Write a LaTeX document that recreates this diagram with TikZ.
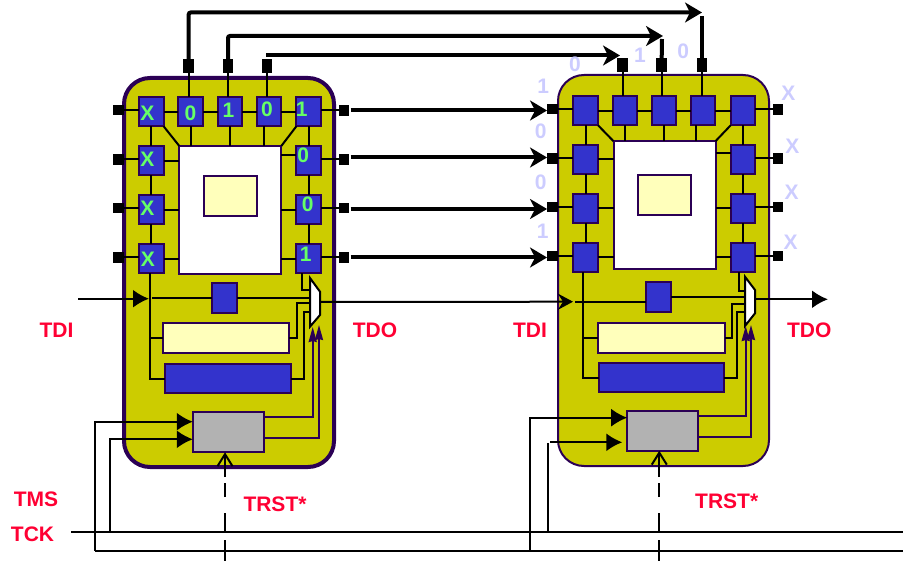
\documentclass[tikz,border=0pt]{standalone}
\usepackage{fontspec}
\setmainfont{Liberation Sans}
\usetikzlibrary{arrows.meta}
\definecolor{edge}{RGB}{43,0,85}
\definecolor{olive}{RGB}{204,204,0}
\definecolor{cellblue}{RGB}{51,51,204}
\definecolor{pale}{RGB}{255,255,187}
\definecolor{graybox}{RGB}{178,178,178}
\definecolor{redlabel}{RGB}{255,0,51}
\definecolor{greenlabel}{RGB}{102,255,102}
\definecolor{ghost}{RGB}{204,204,255}
\tikzset{
  base/.style={inner sep=0pt,outer sep=0pt,draw=edge},
  chip/.style={base,fill=olive,rounded corners=26pt},
  cellbox/.style={base,fill=cellblue,line width=2pt,minimum width=24.5pt,minimum height=29pt},
  padbox/.style={inner sep=0pt,outer sep=0pt,fill=black,minimum width=10.5pt,minimum height=10.5pt},
  toppad/.style={padbox,minimum height=14pt},
  corebox/.style={base,fill=white,line width=2pt},
  palebox/.style={base,fill=pale,line width=2pt},
  bluebox/.style={base,fill=cellblue,line width=2pt},
  graysq/.style={base,fill=graybox,line width=2pt},
  muxshape/.style={draw=black,fill=white,line width=2pt},
  wire/.style={draw=black,line width=2pt},
  bus/.style={draw=black,line width=4pt,rounded corners=2pt},
  ctl/.style={draw=edge,line width=2pt,-{Stealth[length=15pt,width=8pt,inset=1pt]}},
  bighead/.style={-{Latex[length=16pt,width=18pt]}},
  barbhead/.style={-{Stealth[length=17pt,width=20pt,inset=5pt]}},
  openhead/.style={-{Straight Barb[length=12pt,width=15pt]}},
  trstdash/.style={dash pattern=on 21pt off 8pt on 19pt off 16pt on 14pt off 6pt on 40pt off 0pt},
  lab/.style={inner sep=0pt,text=redlabel,font=\bfseries\fontsize{21}{21}\selectfont},
  bit/.style={inner sep=0pt,text=greenlabel,font=\bfseries\fontsize{21}{21}\selectfont},
  ghostbit/.style={inner sep=0pt,text=ghost,font=\bfseries\fontsize{21}{21}\selectfont},
}
\begin{document}
\begin{tikzpicture}[x=1pt,y=-1pt]
\useasboundingbox (0,0) rectangle (903,561);
% ---------- chips
\node[chip,line width=4pt,minimum width=210pt,minimum height=389pt] (chipa) at (229,272.5) {};
\node[chip,line width=2pt,minimum width=211pt,minimum height=391pt] (chipb) at (663.5,270.5) {};
% ---------- named free ends
\coordinate (c1) at (702,12.5);
\coordinate (c2) at (663,36);
\coordinate (c3) at (620,55.5);
\coordinate (c3s) at (266,55.5);
\coordinate (d1) at (702,16);
\coordinate (d2) at (662,39);
\coordinate (tdiS) at (78,298.7);
\coordinate (tdiT) at (149,298.7);
\coordinate (tdiT2) at (573,301.7);
\coordinate (tdoE) at (828,299.3);
\coordinate (tckS) at (71,531.7);
\coordinate (tckE) at (903,531.7);
\coordinate (tmsS) at (95,550.7);
\coordinate (tmsE) at (903,550.7);
\coordinate (tckA) at (110,531.7);
\coordinate (tmsB) at (530,550.7);
\coordinate (tckB) at (548.3,531.7);
\coordinate (trstA) at (225,561);
\coordinate (trstB) at (659.3,561);
\coordinate (ba1) at (350.7,110.5);
\coordinate (ba2) at (350.7,157.5);
\coordinate (ba3) at (350.7,209);
\coordinate (ba4) at (350.7,257.5);
% ---------- boxes
\foreach \n/\x/\y in {a1/151.3/111.7,a2/190.7/111.7,a3/230/111.7,a4/269/111.7,a5/308.7/111.7,
  a6/151.3/160.7,a7/151.3/210,a8/151.3/258.7,a9/308.7/160.7,a10/308.7/210,a11/308.7/258.7,
  b1/585.7/110.7,b2/625/110.7,b3/664/110.7,b4/703/110.7,b5/743/110.7,
  b6/585.7/159.3,b7/585.7/208.3,b8/585.7/257.3,b9/743/159.3,b10/743/208.3,b11/743/257.3}
  \node[cellbox] (\n) at (\x,\y) {};
\node[corebox,minimum width=102pt,minimum height=128pt] (corea) at (230.3,210) {};
\node[palebox,minimum width=53pt,minimum height=40pt] (irega) at (230.5,196) {};
\node[corebox,minimum width=102pt,minimum height=128pt] (coreb) at (664.5,205.2) {};
\node[palebox,minimum width=53pt,minimum height=39.5pt] (iregb) at (664.3,195) {};
\node[bluebox,minimum width=24.5pt,minimum height=30pt] (bypa) at (224.5,298.3) {};
\node[palebox,minimum width=125.5pt,minimum height=30pt] (ira) at (226.2,338.5) {};
\node[bluebox,minimum width=126pt,minimum height=29pt] (dra) at (227.5,379) {};
\node[graysq,minimum width=71pt,minimum height=40pt] (ctla) at (228.3,432.3) {};
\node[bluebox,minimum width=24.5pt,minimum height=30pt] (bypb) at (658.7,297.5) {};
\node[palebox,minimum width=127pt,minimum height=30pt] (irb) at (661.7,337.7) {};
\node[bluebox,minimum width=125pt,minimum height=29pt] (drb) at (661.3,377.8) {};
\node[graysq,minimum width=71pt,minimum height=39.5pt] (ctlb) at (662.7,431) {};
% ---------- pads
\foreach \n/\x/\y in {pl1/118.3/110,pl2/118.3/159.5,pl3/118.3/208,pl4/118.3/257.5,
  pr1/344/110.5,pr2/344/159.5,pr3/344/208,pr4/344/257.5,
  ql1/552.3/109,ql2/552.3/158.5,ql3/552.3/207,ql4/552.3/256,
  qr1/778/109.5,qr2/778/158.5,qr3/778/207,qr4/778/256}
  \node[padbox] (\n) at (\x,\y) {};
\foreach \n/\x/\y in {pt1/188.7/66,pt2/228/66,pt3/267/66,qt1/622.7/65,qt2/661.7/65,qt3/702/65}
  \node[toppad] (\n) at (\x,\y) {};
% ---------- internal wiring, both chips
\foreach \c in {a,b}{
  \draw[wire] (\c1) -- (\c2);
  \draw[wire] (\c2) -- (\c3);
  \draw[wire] (\c3) -- (\c4);
  \draw[wire] (\c4) -- (\c5);
  \draw[wire] (\c5) -- (\c9);
  \draw[wire] (\c9) -- (\c10);
  \draw[wire] (\c10) -- (\c11);
  \draw[wire] (\c1) -- (\c6);
  \draw[wire] (\c6) -- (\c7);
  \draw[wire] (\c7) -- (\c8);
  \draw[wire] (\c2) -- (\c2|-core\c.north);
  \draw[wire] (\c3) -- (\c3|-core\c.north);
  \draw[wire] (\c1.south east) -- (core\c.north west);
  \draw[wire] (\c5.south west) -- (core\c.north east);
  \draw[wire] (\c6) -- (\c6-|core\c.west);
  \draw[wire] (\c7) -- (\c7-|core\c.west);
  \draw[wire] (\c8) -- (\c8-|core\c.west);
  \draw[wire] (\c10) -- (\c10-|core\c.east);
  \draw[wire] (\c11) -- (\c11-|core\c.east);
}
\draw[wire] ([xshift=-5pt]a4.south) -- ([xshift=-5pt]a4.south|-corea.north);
\draw[wire] ([xshift=-7pt]b4.south) -- ([xshift=-7pt]b4.south|-coreb.north);
\draw[wire] ([yshift=6pt]corea.east|-a9) -- ([yshift=6pt]a9.west);
\draw[wire] ([yshift=6pt]coreb.east|-b9) -- ([yshift=6pt]b9.west);
% pads to cells
\foreach \p/\q in {pl1/a1,pl2/a6,pl3/a7,pl4/a8,ql1/b1,ql2/b6,ql3/b7,ql4/b8}
  \draw[wire] (\p.east) -- (\p.east-|\q.west);
\foreach \p/\q in {pr1/a5,pr2/a9,pr3/a10,pr4/a11,qr1/b5,qr2/b9,qr3/b10,qr4/b11}
  \draw[wire] (\p.west) -- (\p.west-|\q.east);
\foreach \p/\q in {pt1/a2,pt2/a3,pt3/a4,qt1/b2,qt2/b3,qt3/b4}
  \draw[wire] (\p.south) -- (\p.south|-\q.north);
% ---------- board buses
\draw[bus,barbhead] (pt1.north) |- (c1);
\draw[bus,barbhead] (pt2.north) |- (c2);
\draw[bus,barbhead] (c3s) -- (c3);
\draw[bus] (qt3.north) -- (d1);
\draw[bus] (qt2.north) -- (d2);
\draw[bus,barbhead] (ba1) -- (ba1-|ql1.west);
\draw[bus,barbhead] (ba2) -- (ba2-|ql2.west);
\draw[bus,barbhead] (ba3) -- (ba3-|ql3.west);
\draw[bus,barbhead] (ba4) -- (ba4-|ql4.west);
% ---------- TDI / TDO path
\draw[wire,bighead] (tdiS) -- (tdiT);
\draw[wire] (150,273.5) |- (dra.west);
\draw[wire] (150,338.5) -- (ira.west);
\draw[wire] (152,298.3) -- (bypa.west);
\draw[wire] (bypa.east) -- (310,298.3);
\draw[wire] (ira.east) -| (297,303) -- (310,303);
\draw[wire] (dra.east) -| (304,312) -- (310,312);
\draw[wire] (301.7,273.5) |- (310,290);
\draw[wire,-{Stealth[length=15pt,width=16pt,inset=5pt]}] (320,302) -- (tdiT2);
\draw[wire] (bypb.east) -- (745,297.5);
\draw[wire] (575,301.7) -- (bypb.west|-tdiT2);
\draw[wire] (583.3,272) |- (drb.west);
\draw[wire] (583.3,337.7) -- (irb.west);
\draw[wire] (irb.east) -| (732,304.3) -- (745,304.3);
\draw[wire] (drb.east) -| (737,311.7) -- (745,311.7);
\draw[wire] (738.7,272) |- (745,290.7);
\draw[wire,bighead] (755,299.3) -- (tdoE);
% ---------- muxes
\filldraw[muxshape] (310,278) -- (320,291.7) -- (320,315) -- (310,326.7) -- cycle;
\filldraw[muxshape] (745,276.7) -- (755,290) -- (755,313.3) -- (745,326) -- cycle;
% ---------- controller outputs
\draw[ctl] (ctla.east|-0,417.3) -| (312.7,327);
\draw[ctl] (ctla.east|-0,437.7) -| (319,325);
\draw[ctl] (ctlb.east|-0,416) -| (745.7,326);
\draw[ctl] (ctlb.east|-0,436.7) -| (751,325);
% ---------- TMS / TCK / TRST
\draw[wire] (tckS) -- (tckE);
\draw[wire] (tmsS) -- (tmsE);
\draw[wire,bighead] (tmsS) |- (ctla.west|-0,421.7);
\draw[wire,bighead] (tckA) |- (ctla.west|-0,439.3);
\draw[wire,bighead] (tmsB) |- (ctlb.west|-0,417.7);
\draw[wire] (tckB) -- (548.3,443);
\draw[wire,bighead] (550,442.3) -- (622.3,442.3);
\draw[wire,trstdash,openhead] (trstA) -- (trstA|-ctla.south);
\draw[wire,trstdash,openhead] (trstB) -- (trstB|-ctlb.south);
% ---------- labels
\node[lab] (t1) at (56.5,330) {TDI};
\node[lab] (t2) at (375,330.7) {TDO};
\node[lab] (t3) at (36,499.3) {TMS};
\node[lab] (t4) at (32.5,534) {TCK};
\node[lab] (t5) at (275,504) {TRST*};
\node[lab] (t6) at (530,330) {TDI};
\node[lab] (t7) at (809.3,330) {TDO};
\node[lab] (t8) at (726.7,501) {TRST*};
% ---------- bits
\foreach \n/\x/\y/\t in {g1/147.5/113.5/X,g2/190.5/113/0,g3/228.5/110/1,g4/267/109.5/0,g5/301.7/109/1,
  g6/147.5/159.3/X,g7/147.5/208.3/X,g8/148/259.3/X,g9/303.3/155.7/0,g10/307.7/204.3/0,g11/305.7/254/1}
  \node[bit] (\n) at (\x,\y) {\t};
\foreach \n/\x/\y/\t in {h1/575/64.3/0,h2/640/55.7/1,h3/683.3/51.7/0,h4/543.3/86/1,h5/540.7/131/0,h6/540.7/182.7/0,h7/542.7/231.7/1,
  h8/788.3/93.7/X,h9/792.3/146.7/X,h10/791.7/192.3/X,h11/790.7/242.3/X}
  \node[ghostbit] (\n) at (\x,\y) {\t};
\end{tikzpicture}
\end{document}
